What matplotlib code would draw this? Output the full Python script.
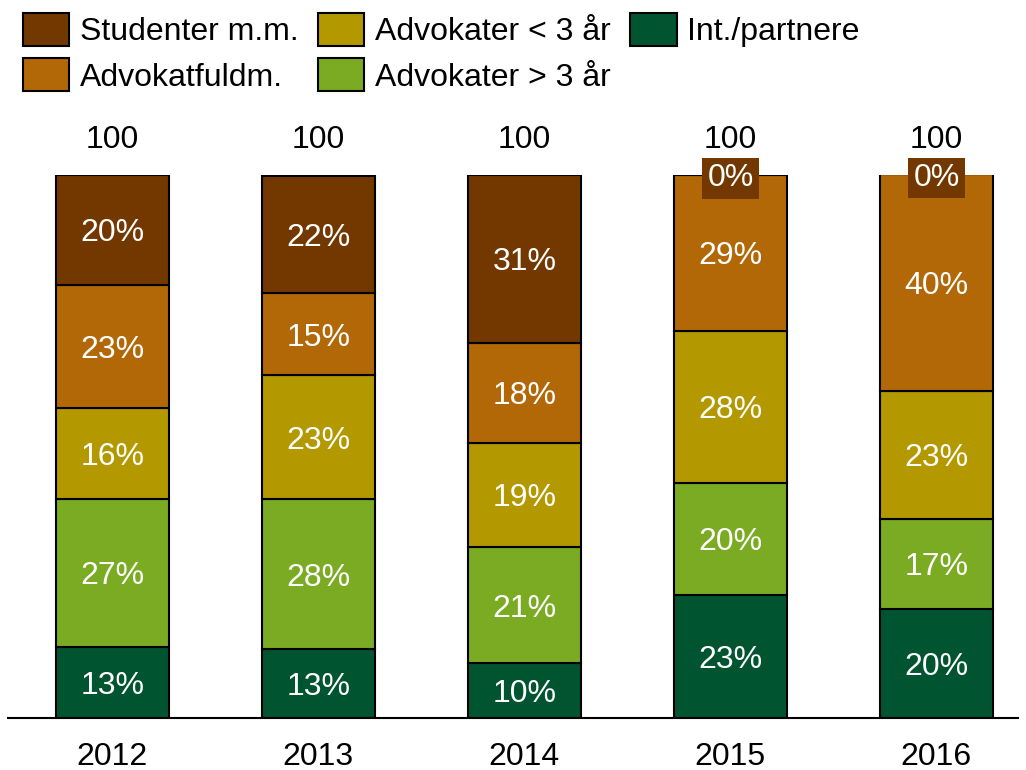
import numpy as np
import matplotlib
matplotlib.use("Agg")
from matplotlib import pyplot as plt

plt.rcParams['font.family'] = ['Liberation Sans', 'DejaVu Sans']

years = ["2012", "2013", "2014", "2015", "2016"]
categories = ["Int./partnere", "Advokater > 3 år", "Advokater < 3 år",
              "Advokatfuldm.", "Studenter m.m."]
colors = ["#005530", "#7AAB22", "#B39800", "#B36807", "#733800"]

# share of staff per year (%), bottom to top
int_partnere = [13.1, 12.7, 10.1, 22.7, 20.1]
adv_over3 = [27.3, 27.6, 21.4, 20.6, 16.6]
adv_under3 = [16.6, 22.8, 19.2, 28.0, 23.6]
fuldm = [22.8, 15.1, 18.4, 28.7, 39.8]
studenter = [20.2, 21.7, 30.9, 0.0, 0.0]

# labels as printed on the chart
lbl_int = [13, 13, 10, 23, 20]
lbl_over3 = [27, 28, 21, 20, 17]
lbl_under3 = [16, 23, 19, 28, 23]
lbl_fuldm = [23, 15, 18, 29, 40]
lbl_stud = [20, 22, 31, 0, 0]
totals = [100, 100, 100, 100, 100]

series = [int_partnere, adv_over3, adv_under3, fuldm, studenter]
labels = [lbl_int, lbl_over3, lbl_under3, lbl_fuldm, lbl_stud]

FS = 23

fig = plt.figure(figsize=(10.26, 7.70), dpi=100)
ax = fig.add_axes([8 / 1026, 52 / 770, 1010 / 1026, 543 / 770])

x = np.arange(len(years))
bottom = np.zeros(len(years))
handles = []
for vals, lbls, col, cat in zip(series, labels, colors, categories):
    vals = np.array(vals)
    b = ax.bar(x, vals, 0.55, bottom=bottom, color=col, edgecolor="black",
               linewidth=1.5, label=cat, zorder=2)
    handles.append(b)
    for i in range(len(years)):
        yc = bottom[i] + vals[i] / 2
        if vals[i] > 0:
            ax.text(x[i], yc, "{}%".format(lbls[i]), ha="center",
                    va="center_baseline", color="white", fontsize=FS, zorder=3)
        else:
            ax.text(x[i], yc, "{}%".format(lbls[i]), ha="center",
                    va="center_baseline", color="white", fontsize=FS,
                    zorder=4, clip_on=False,
                    bbox=dict(boxstyle="square,pad=0.17", facecolor=col,
                              edgecolor="none"))
    bottom += vals

for i in range(len(years)):
    ax.text(x[i], 107, str(totals[i]), ha="center", va="center_baseline",
            fontsize=FS, clip_on=False)

ax.set_xlim(-0.507, 4.396)
ax.set_ylim(0, 100)
ax.set_xticks(x)
ax.set_xticklabels(years, fontsize=FS)
ax.tick_params(axis="x", length=0, pad=17)
ax.set_yticks([])
for s in ["left", "right", "top"]:
    ax.spines[s].set_visible(False)
ax.spines["bottom"].set_linewidth(1.5)

order = [4, 3, 2, 1, 0]
fig.legend([handles[k] for k in order], [categories[k] for k in order],
           ncol=3, loc="upper left", bbox_to_anchor=(0.0097, 1.0),
           frameon=False, fontsize=FS, handlelength=1.45, handleheight=1.2,
           handletextpad=0.33, columnspacing=0.62, labelspacing=0.36,
           borderaxespad=0.2, borderpad=0.2)

fig.savefig("out.png", dpi=100)
